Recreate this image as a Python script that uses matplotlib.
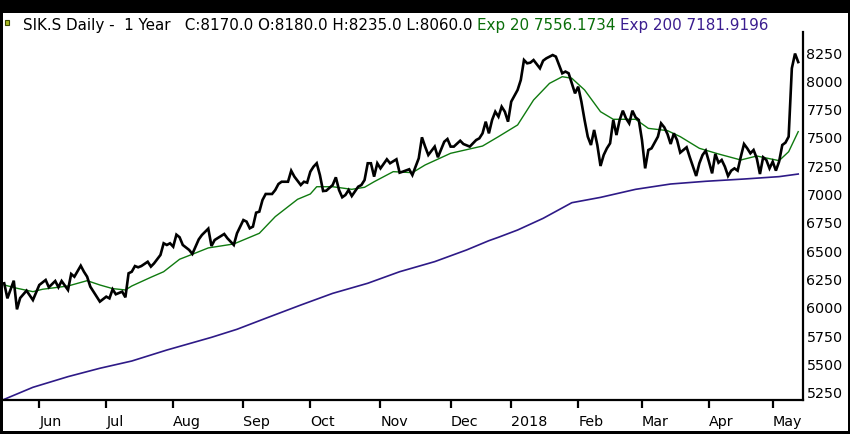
import matplotlib
matplotlib.use("Agg")
import matplotlib.pyplot as plt
import pandas as pd
from matplotlib.patches import Rectangle

# SIX trading calendar, one year of sessions
holidays = ["2017-05-25", "2017-06-05", "2017-08-01", "2017-12-25", "2017-12-26",
            "2018-01-01", "2018-01-02", "2018-03-30", "2018-04-02", "2018-05-01",
            "2018-05-10"]
sessions = pd.bdate_range("2017-05-16", "2018-05-15", freq="C", holidays=holidays)

tick_labels = ["Jun", "Jul", "Aug", "Sep", "Oct", "Nov", "Dec", "2018", "Feb", "Mar", "Apr", "May"]
y_ticks = [5250, 5500, 5750, 6000, 6250, 6500, 6750, 7000, 7250, 7500, 7750, 8000, 8250]

# daily close (session number, price)
close_session = [0, 1, 3, 4, 5, 7, 9, 11, 13, 14, 16, 17, 18, 20, 21, 22, 24, 25, 26, 27,
                 30, 32, 33, 34, 35, 37, 38, 39, 40, 41, 42, 43, 45, 46, 47, 49, 50, 51, 52, 53,
                 54, 55, 56, 58, 59, 60, 61, 62, 64, 65, 66, 69, 70, 72, 73, 75, 76, 77, 78, 79,
                 80, 81, 82, 84, 85, 86, 87, 89, 90, 91, 93, 94, 95, 96, 97, 98, 99, 100, 101, 103,
                 104, 105, 106, 107, 108, 109, 111, 112, 113, 114, 115, 116, 117, 118, 120, 121, 123, 124, 125, 127,
                 128, 129, 130, 131, 132, 133, 135, 136, 138, 139, 140, 141, 143, 144, 146, 148, 149, 150, 151, 152,
                 153, 154, 155, 156, 157, 158, 159, 161, 162, 163, 164, 165, 166, 168, 169, 170, 172, 173, 174, 175,
                 176, 177, 178, 179, 180, 181, 182, 183, 184, 185, 186, 187, 188, 189, 190, 191, 192, 193, 194, 195,
                 196, 197, 198, 199, 200, 201, 202, 203, 205, 206, 207, 208, 209, 210, 211, 212, 214, 215, 216, 217,
                 218, 219, 220, 221, 222, 223, 224, 225, 226, 227, 228, 229, 230, 231, 232, 233, 234, 235, 236, 237,
                 238, 239, 240, 241, 242, 243, 244, 245, 246, 247, 248, 249]
close_price = [6218, 6085, 6241, 5988, 6088, 6153, 6070, 6203, 6247, 6183, 6238, 6183, 6238, 6159, 6300, 6276, 6373, 6320, 6276, 6188,
               6056, 6100, 6085, 6165, 6121, 6144, 6094, 6306, 6320, 6370, 6359, 6370, 6408, 6365, 6394, 6468, 6571, 6556, 6571, 6541,
               6647, 6624, 6556, 6512, 6477, 6541, 6605, 6644, 6700, 6547, 6600, 6653, 6615, 6556, 6659, 6776, 6762, 6703, 6718, 6841,
               6850, 6953, 7006, 7006, 7041, 7094, 7114, 7114, 7211, 7159, 7085, 7114, 7106, 7203, 7247, 7277, 7173, 7032, 7035, 7085,
               7153, 7041, 6977, 6997, 7041, 6988, 7070, 7085, 7129, 7277, 7277, 7159, 7277, 7232, 7312, 7277, 7312, 7194, 7203, 7224,
               7173, 7247, 7321, 7506, 7424, 7350, 7424, 7330, 7467, 7491, 7424, 7424, 7476, 7447, 7424, 7482, 7497, 7541, 7644, 7541,
               7659, 7732, 7688, 7776, 7732, 7644, 7821, 7924, 8012, 8188, 8159, 8165, 8188, 8115, 8182, 8203, 8232, 8218, 8144, 8071,
               8086, 8071, 7982, 7894, 7953, 7821, 7659, 7512, 7438, 7571, 7438, 7253, 7350, 7409, 7453, 7659, 7526, 7659, 7741, 7673,
               7629, 7741, 7682, 7659, 7482, 7232, 7394, 7409, 7512, 7629, 7594, 7535, 7447, 7541, 7482, 7371, 7418, 7330, 7247, 7165,
               7277, 7350, 7388, 7291, 7188, 7359, 7282, 7306, 7247, 7165, 7212, 7232, 7212, 7335, 7447, 7409, 7365, 7394, 7321, 7182,
               7330, 7306, 7232, 7291, 7212, 7291, 7438, 7459, 7512, 8115, 8245, 8170]

# exponential moving average, 20 sessions
ema20_session = [0, 4, 9, 12, 20, 26, 30, 34, 38, 40, 46, 50, 55, 59, 64, 72, 80, 85, 92, 96,
                 98, 103, 109, 113, 116, 122, 124, 128, 132, 140, 150, 155, 161, 166, 171, 175, 178, 182, 187, 191,
                 198, 202, 208, 212, 218, 224, 231, 236, 243, 246, 249]
ema20_value = [6203, 6174, 6144, 6165, 6194, 6241, 6203, 6171, 6159, 6194, 6271, 6320, 6430, 6474, 6530, 6565, 6659, 6806, 6959, 7006,
               7070, 7070, 7047, 7065, 7114, 7203, 7200, 7194, 7262, 7365, 7429, 7512, 7615, 7835, 7982, 8041, 8027, 7924, 7732, 7665,
               7665, 7585, 7565, 7512, 7409, 7359, 7306, 7341, 7300, 7379, 7556]

# exponential moving average, 200 sessions
ema200_session = [0, 9, 20, 30, 40, 51, 65, 73, 82, 93, 103, 114, 124, 135, 145, 152, 155, 161, 169, 178,
                  187, 198, 209, 220, 232, 243, 249]
ema200_value = [5194, 5300, 5394, 5468, 5532, 5629, 5741, 5812, 5909, 6026, 6129, 6218, 6320, 6409, 6512, 6594, 6624, 6688, 6791, 6929,
                6976, 7047, 7094, 7118, 7138, 7159, 7182]

W, H = 850, 434
fig = plt.figure(figsize=(W / 100, H / 100), dpi=100)
fig.patch.set_facecolor("black")
fig.add_artist(Rectangle((3 / W, 3 / H), 844.5 / W, 418 / H, transform=fig.transFigure,
                         facecolor="white", edgecolor="none", zorder=0))

ax = fig.add_axes([3 / W, (H - 400) / H, 800 / W, 387 / H])
ax.set_facecolor("none")

ax.plot(ema200_session, ema200_value, color="#2e1a87", lw=1.2)
ax.plot(ema20_session, ema20_value, color="#0f7a0f", lw=1.0)
ax.plot(close_session, close_price, color="black", lw=1.9, solid_joinstyle="miter")

ax.set_xlim(-0.38, 250.5)
ax.set_ylim(5188, 8603)

for s in ["top", "left"]:
    ax.spines[s].set_visible(False)
for s in ["bottom", "right"]:
    ax.spines[s].set_linewidth(1.6)
ax.spines["right"].set_bounds(5188, 8435)

# first session of every month after the start
pos = pd.Series(range(len(sessions)), index=sessions)
month_first = pos.groupby([sessions.year, sessions.month]).first().values[1:]
ax.set_xticks(month_first)
ax.set_xticklabels(tick_labels, ha="left", fontsize=10.3)
ax.tick_params(axis="x", direction="out", length=6, width=1.6, pad=5)

ax.yaxis.tick_right()
ax.set_yticks(y_ticks)
ax.set_yticklabels([str(v) for v in y_ticks], fontsize=10.3)
ax.tick_params(axis="y", length=0, pad=2.5)

# header line
fig.add_artist(Rectangle((5 / W, 1 - 25 / H), 4 / W, 5 / H, transform=fig.transFigure,
                         facecolor="#a8b820", edgecolor="#3d4a00", lw=0.8))
parts = [("SIK.S Daily -  1 Year   C:8170.0 O:8180.0 H:8235.0 L:8060.0", "black"),
         ("Exp 20 7556.1734", "#0a6e0a"),
         ("Exp 200 7181.9196", "#3b1d8f")]
x = 22.7
renderer = fig.canvas.get_renderer()
for txt, col in parts:
    t = fig.text(x / W, 1 - 30 / H, txt, color=col, fontsize=10.9, ha="left", va="baseline")
    bb = t.get_window_extent(renderer)
    x = bb.x1 + 4.8

fig.savefig("out.png", dpi=100, facecolor=fig.get_facecolor())
